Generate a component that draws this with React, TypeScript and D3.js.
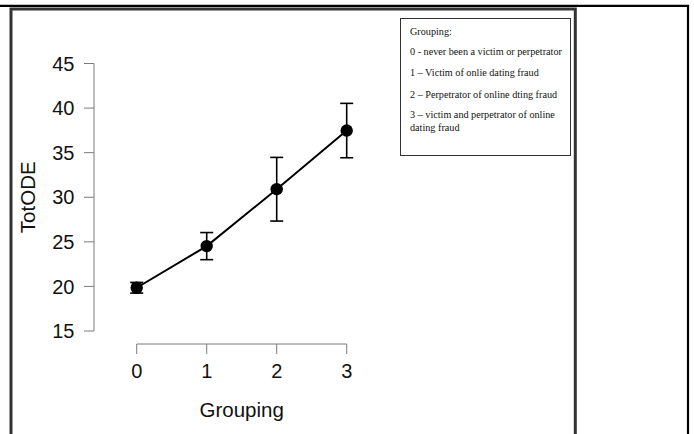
import React from "react";
import * as d3 from "d3";

const groups = [0, 1, 2, 3];
const means = [19.85, 24.52, 30.9, 37.48];
const errs = [0.6, 1.52, 3.57, 3.05];
const yTicks = [15, 20, 25, 30, 35, 40, 45];
const xTicks = [0, 1, 2, 3];
const legendLines = [
  "Grouping:",
  "0 - never been a victim or perpetrator",
  "1 \u2013 Victim of onlie dating fraud",
  "2 \u2013 Perpetrator of online dting fraud",
  "3 \u2013 victim and perpetrator of online",
  "dating fraud",
];
const legendY = [31.7, 51.7, 72.7, 94.3, 115, 127.7];

export default function App() {
  const x = d3.scaleLinear().domain([0, 3]).range([136.7, 346.7]);
  const y = d3.scaleLinear().domain([15, 45]).range([331, 63.5]);
  const line = d3
    .line<number>()
    .x((_, i) => x(groups[i]))
    .y((d) => y(d));
  const axisColor = "#7a7a7a";
  const sans = "Liberation Sans, Arial, sans-serif";
  return (
    <svg
      width={694}
      height={434}
      style={{ position: "absolute", left: 0, top: 0, background: "#fff" }}
    >
      {/* frames */}
      <line x1={0} x2={689} y1={5.8} y2={5.8} stroke="#000" strokeWidth={2.2} />
      <line x1={688} x2={688} y1={5} y2={434} stroke="#000" strokeWidth={2.2} />
      <path d="M11,434 V9 H575.3 V434" fill="none" stroke="#333" strokeWidth={3} />
      {/* y axis */}
      <line x1={94} x2={94} y1={y(45)} y2={y(15)} stroke={axisColor} strokeWidth={1} />
      {yTicks.map((t) => (
        <g key={t}>
          <line x1={84} x2={94} y1={y(t)} y2={y(t)} stroke={axisColor} strokeWidth={1} />
          <text
            x={74.5}
            y={y(t)}
            dy="0.36em"
            textAnchor="end"
            fontFamily={sans}
            fontSize={20}
            fill="#111"
          >
            {t}
          </text>
        </g>
      ))}
      <text
        transform={`translate(34.5,${(y(15) + y(45)) / 2}) rotate(-90)`}
        textAnchor="middle"
        fontFamily={sans}
        fontSize={20.5}
        fill="#111"
      >
        TotODE
      </text>
      {/* x axis */}
      <line x1={x(0)} x2={x(3)} y1={344} y2={344} stroke={axisColor} strokeWidth={1} />
      {xTicks.map((t) => (
        <g key={t}>
          <line x1={x(t)} x2={x(t)} y1={344} y2={354} stroke={axisColor} strokeWidth={1} />
          <text
            x={x(t)}
            y={378.3}
            textAnchor="middle"
            fontFamily={sans}
            fontSize={20}
            fill="#111"
          >
            {t}
          </text>
        </g>
      ))}
      <text
        x={(x(0) + x(3)) / 2}
        y={417}
        textAnchor="middle"
        fontFamily={sans}
        fontSize={20.5}
        fill="#111"
      >
        Grouping
      </text>
      {/* line */}
      <path d={line(means) || ""} fill="none" stroke="#000" strokeWidth={2} />
      {/* error bars */}
      {groups.map((g, i) => (
        <g key={g} stroke="#000" strokeWidth={1.6}>
          <line x1={x(g)} x2={x(g)} y1={y(means[i] - errs[i])} y2={y(means[i] + errs[i])} />
          <line x1={x(g) - 6.5} x2={x(g) + 6.5} y1={y(means[i] - errs[i])} y2={y(means[i] - errs[i])} />
          <line x1={x(g) - 6.5} x2={x(g) + 6.5} y1={y(means[i] + errs[i])} y2={y(means[i] + errs[i])} />
        </g>
      ))}
      {groups.map((g, i) => (
        <circle key={g} cx={x(g)} cy={y(means[i])} r={6.2} fill="#000" />
      ))}
      {/* legend */}
      <rect x={400.5} y={18.5} width={170} height={137} fill="#fff" stroke="#333" strokeWidth={1} />
      {legendLines.map((s, i) => (
        <text
          key={i}
          x={410}
          y={legendY[i]}
          dy="0.33em"
          fontFamily="Liberation Serif, Times New Roman, serif"
          fontSize={10.2}
          fill="#111"
        >
          {s}
        </text>
      ))}
    </svg>
  );
}
